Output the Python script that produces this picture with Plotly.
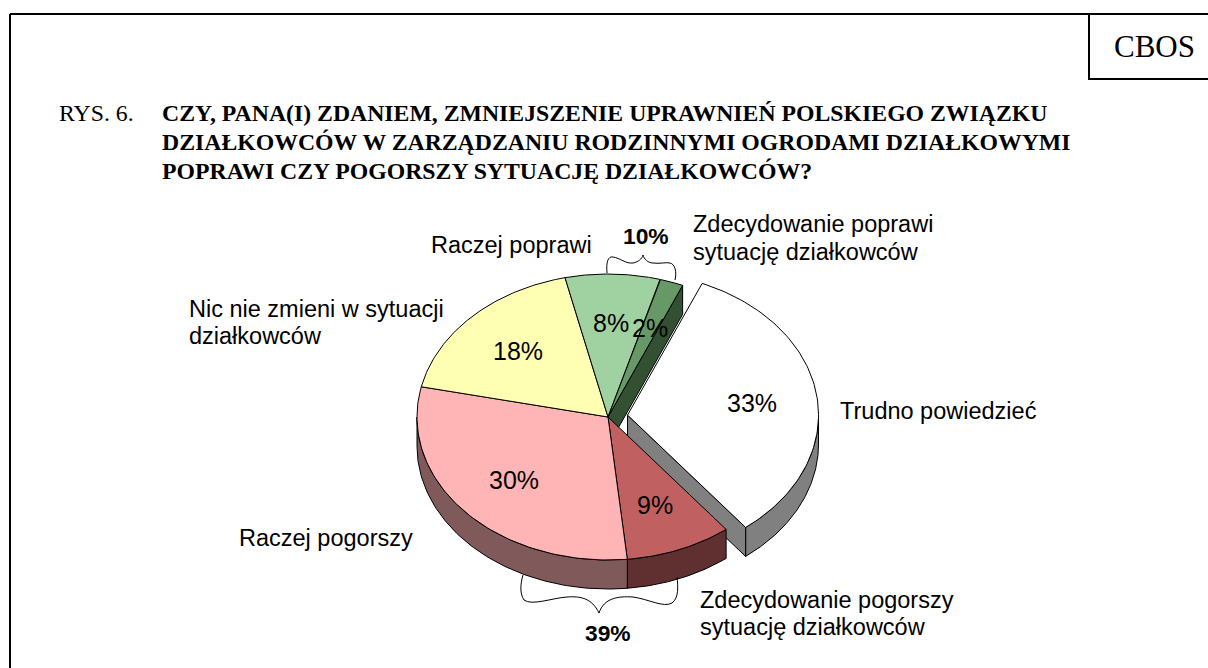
import numpy as np
import plotly.graph_objects as go

# ---- data -------------------------------------------------------------
slice_names = ["Trudno powiedzieć", "Zdecydowanie pogorszy", "Raczej pogorszy",
               "Nic nie zmieni", "Raczej poprawi", "Zdecydowanie poprawi"]
slice_values = [33, 9, 30, 18, 8, 2]
top_colors = ["#FFFFFF", "#C06060", "#FFB5B5", "#FFFFB3", "#A0D1A0", "#669966"]
side_colors = ["#808080", "#603030", "#805A5A", "#808059", "#506850", "#335033"]
exploded = [True, False, False, False, False, False]

title_prefix = "RYS. 6."
title_lines = ["CZY, PANA(I) ZDANIEM, ZMNIEJSZENIE UPRAWNIEŃ POLSKIEGO ZWIĄZKU",
               "DZIAŁKOWCÓW W ZARZĄDZANIU RODZINNYMI OGRODAMI DZIAŁKOWYMI",
               "POPRAWI CZY POGORSZY SYTUACJĘ DZIAŁKOWCÓW?"]
bracket_totals = ["10%", "39%"]

# ---- pie geometry -----------------------------------------------------
W, H = 1208, 668
CX, CY, RX, RY = 608.0, 417.0, 191.0, 143.0
DEPTH, START, EXPLODE, LABEL_FRAC = 29.0, 23.0, 19.7, 0.66
SERIF = "Liberation Serif, Times New Roman, serif"
SANS = "Liberation Sans, Arial, sans-serif"

def pt(center, ang, frac=1.0, dy=0.0):
    a = np.radians(ang)
    return center[0] + RX * frac * np.sin(a), center[1] - RY * frac * np.cos(a) + dy

total = sum(slice_values)
angles = np.cumsum([0] + [v / total * 360 for v in slice_values]) + START
slices = []
for i, v in enumerate(slice_values):
    a0, a1 = angles[i], angles[i + 1]
    mid = (a0 + a1) / 2
    c = (CX, CY) if not exploded[i] else (
        CX + EXPLODE * np.sin(np.radians(mid)),
        CY - EXPLODE * RY / RX * np.cos(np.radians(mid)))
    slices.append(dict(a0=a0, a1=a1, mid=mid, c=c, top=top_colors[i], side=side_colors[i], val=v))

fig = go.Figure()

def poly(xs, ys, color):
    fig.add_trace(go.Scatter(x=list(xs), y=list(ys), mode="lines", fill="toself",
                             fillcolor=color, line=dict(color="#000000", width=1),
                             hoverinfo="skip", showlegend=False))

def arc(c, a0, a1, dy=0.0):
    t = np.linspace(a0, a1, 90)
    return pt(c, t, 1.0, dy)

def top_face(s):
    x, y = arc(s["c"], s["a0"], s["a1"])
    poly([s["c"][0], *x, s["c"][0]], [s["c"][1], *y, s["c"][1]], s["top"])

def outer_side(s):
    a0, a1 = max(s["a0"], 90), min(s["a1"], 270)
    if a1 <= a0:
        return
    x, y = arc(s["c"], a0, a1)
    x2, y2 = arc(s["c"], a1, a0, DEPTH)
    poly([*x, *x2, x[0]], [*y, *y2, y[0]], s["side"])

def cut_face(s, ang):
    x, y = pt(s["c"], ang)
    cx, cy = s["c"]
    poly([cx, x, x, cx, cx], [cy, y, y + DEPTH, cy + DEPTH, cy], s["side"])

# exploded slice first (it sits behind the main group's cuts)
white = slices[0]
outer_side(white)
cut_face(white, white["a1"])
top_face(white)

# cut face of the last slice, facing the gap
cut_face(slices[-1], slices[-1]["a1"])

for s in slices[1:]:
    outer_side(s)
for s in slices[1:]:
    top_face(s)

# value labels
annotations = []
def text(x, y, s, size, family=SANS, bold=False, anchor="left"):
    annotations.append(dict(x=x, y=y, xref="x", yref="y", text=f"<b>{s}</b>" if bold else s,
                            showarrow=False, xanchor=anchor, yanchor="middle",
                            font=dict(family=family, size=size, color="#000000"),
                            borderpad=0, borderwidth=0))

for s in slices:
    x, y = pt(s["c"], s["mid"], LABEL_FRAC)
    text(x, y, f'{s["val"]}%', 25, anchor="center")

# header
text(59, 113, title_prefix, 23.75, SERIF)
for line, y in zip(title_lines, (113, 142, 171)):
    text(162, y, line, 23.75, SERIF, bold=True)
text(1154, 46, "CBOS", 31, SERIF, anchor="center")

# category labels
text(693, 224, "Zdecydowanie poprawi", 23.5)
text(693, 252, "sytuację działkowców", 23.5)
text(431, 245, "Raczej poprawi", 23.5)
text(189, 309, "Nic nie zmieni w sytuacji", 23.5)
text(189, 336, "działkowców", 23.5)
text(840, 411, "Trudno powiedzieć", 23.5)
text(239, 538, "Raczej pogorszy", 23.5)
text(700, 600, "Zdecydowanie pogorszy", 23.5)
text(700, 627, "sytuację działkowców", 23.5)
text(645.5, 236, bracket_totals[0], 22.8, bold=True, anchor="center")
text(608, 633, bracket_totals[1], 22.8, bold=True, anchor="center")

frame = dict(color="#000000", width=2)
thin = dict(color="#000000", width=1)
shapes = [
    dict(type="line", x0=10, y0=14, x1=1208, y1=14, line=frame),
    dict(type="line", x0=10, y0=14, x1=10, y1=668, line=frame),
    dict(type="path", line=frame, path="M 1089 14 L 1089 79 L 1208 79"),
    dict(type="path", line=thin, path="M 607 273 C 606 262 608 256 613 257 C 620 258 626 264 633 263 "
                                       "C 638 262 642 259 643 255 C 644 259 648 263 653 263 "
                                       "C 660 264 666 262 670 263 C 675 264 677 272 675 280"),
    dict(type="path", line=thin, path="M 523 575 C 520 585 520 594 524 600 C 532 606 552 598 567 597 "
                                      "C 580 596 592 598 599 613 C 604 598 618 596 633 597 "
                                      "C 648 599 664 608 672 603 C 679 598 678 586 677 577"),
]

fig.update_layout(
    width=W, height=H, margin=dict(l=0, r=0, t=0, b=0),
    paper_bgcolor="#FFFFFF", plot_bgcolor="#FFFFFF", showlegend=False,
    xaxis=dict(range=[0, W], visible=False, fixedrange=True),
    yaxis=dict(range=[H, 0], visible=False, fixedrange=True),
    annotations=annotations, shapes=shapes,
)
fig.write_html("out.html", post_script="document.body.style.margin='0';document.body.style.overflow='hidden';",
               config={"displayModeBar": False})
